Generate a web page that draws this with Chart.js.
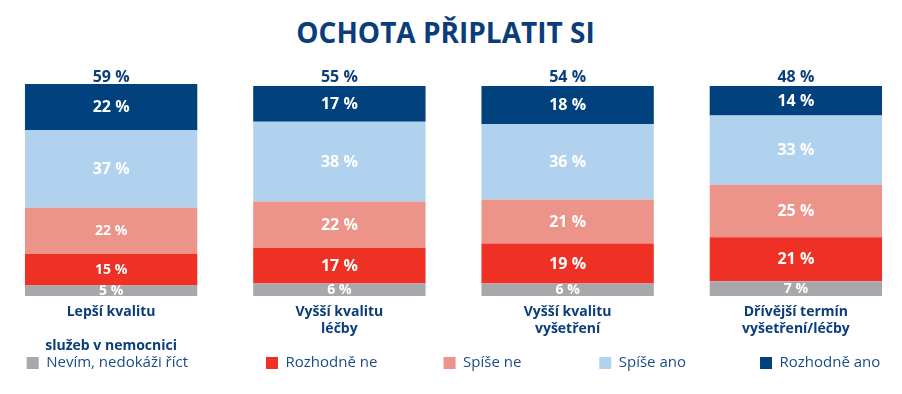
<!DOCTYPE html>
<html>
<head>
<meta charset="utf-8">
<script src="https://cdn.jsdelivr.net/npm/chart.js@4.4.1/dist/chart.umd.min.js"></script>
<style>
  html, body { margin: 0; padding: 0; background: #ffffff; overflow: hidden; width: 902px; height: 394px; }
  #title { position: absolute; left: 0; top: 18px; width: 891px; text-align: center;
           font: bold 28px 'Open Sans', sans-serif; line-height: 28px; color: #0B3D7B; white-space: nowrap; }
  #wrap { position: absolute; left: -3px; top: 0; width: 913px; height: 394px; }
</style>
</head>
<body>
<div id="title">OCHOTA PŘIPLATIT SI</div>
<div id="wrap"><canvas id="c"></canvas></div>
<script>
// ---- data ----
const categories = [
  ["Lepší kvalitu", "", "služeb v nemocnici"],
  ["Vyšší kvalitu", "léčby"],
  ["Vyšší kvalitu", "vyšetření"],
  ["Dřívější termín", "vyšetření/léčby"]
];
const seriesNames = ["Nevím, nedokáži říct", "Rozhodně ne", "Spíše ne", "Spíše ano", "Rozhodně ano"];
const nevim = [5, 6, 6, 7];
const rozhodneNe = [15, 17, 19, 21];
const spiseNe = [22, 22, 21, 25];
const spiseAno = [37, 38, 36, 33];
const rozhodneAno = [22, 17, 18, 14];
const totalAno = [59, 55, 54, 48];

// ---- styles ----
const colors = ["#A7A8AC", "#EE3124", "#EC948A", "#B1D2EF", "#00417E"];
const navy = "#0B3D7B";
const legendText = "#1C4B8A";
const FONT = "'Open Sans', sans-serif";
const legendGapSpaces = [20, 17, 20, 19, 0];

const seriesValues = [nevim, rozhodneNe, spiseNe, spiseAno, rozhodneAno];

function labelSize(ds, idx) {
  if (ds === 0) return 14;
  if (idx === 0 && ds <= 2) return 14;
  return 16;
}

const segmentLabels = {
  id: 'segmentLabels',
  afterDatasetsDraw(chart) {
    const ctx = chart.ctx;
    ctx.save();
    ctx.textAlign = 'center';
    ctx.textBaseline = 'middle';
    chart.data.datasets.forEach((ds, di) => {
      const meta = chart.getDatasetMeta(di);
      meta.data.forEach((bar, i) => {
        const v = ds.data[i];
        const yc = (bar.y + bar.base) / 2;
        ctx.font = 'bold ' + labelSize(di, i) + 'px ' + FONT;
        ctx.fillStyle = '#ffffff';
        ctx.fillText(v + ' %', bar.x, yc + 0.5);
      });
    });
    // totals above bars
    const yS = chart.scales.y;
    const meta0 = chart.getDatasetMeta(0);
    ctx.font = 'bold 16px ' + FONT;
    ctx.fillStyle = navy;
    meta0.data.forEach((bar, i) => {
      ctx.fillText(totalAno[i] + ' %', bar.x, yS.getPixelForValue(100) - 9);
    });
    ctx.restore();
  }
};

new Chart(document.getElementById('c'), {
  type: 'bar',
  data: {
    labels: categories,
    datasets: seriesNames.map((name, i) => ({
      label: name,
      data: seriesValues[i],
      backgroundColor: colors[i],
      borderWidth: 0,
      categoryPercentage: 1,
      barPercentage: 0.755
    }))
  },
  options: {
    responsive: true,
    maintainAspectRatio: false,
    animation: false,
    devicePixelRatio: 1,
    layout: { padding: { top: 84, bottom: 13.5, left: 0, right: 0 } },
    scales: {
      x: {
        stacked: true,
        grid: { display: false, drawTicks: false },
        border: { display: false },
        ticks: {
          color: navy,
          font: { family: FONT, size: 14, weight: 'bold', lineHeight: 1.2 },
          padding: 8,
          maxRotation: 0,
          autoSkip: false
        },
        afterFit(scale) { scale.height = 59.5; }
      },
      y: {
        stacked: true,
        display: false,
        min: 0,
        max: 101
      }
    },
    plugins: {
      title: { display: false },
      tooltip: { enabled: false },
      legend: {
        position: 'bottom',
        labels: {
          boxWidth: 12,
          boxHeight: 12,
          padding: 0,
          color: legendText,
          font: { family: FONT, size: 15 },
          generateLabels(chart) {
            return chart.data.datasets.map((ds, i) => ({
              text: ds.label + ' '.repeat(legendGapSpaces[i]),
              fillStyle: ds.backgroundColor,
              strokeStyle: ds.backgroundColor,
              lineWidth: 0,
              fontColor: legendText,
              hidden: false,
              datasetIndex: i
            }));
          }
        }
      }
    }
  },
  plugins: [segmentLabels]
});
</script>
</body>
</html>
